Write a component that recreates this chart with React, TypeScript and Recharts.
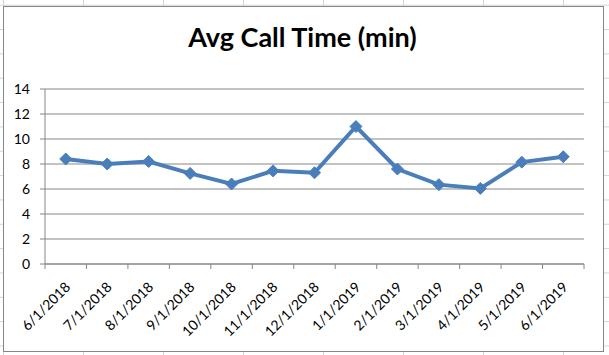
import { LineChart, Line, XAxis, YAxis, CartesianGrid } from "recharts";

const months = [
  "6/1/2018", "7/1/2018", "8/1/2018", "9/1/2018", "10/1/2018", "11/1/2018", "12/1/2018",
  "1/1/2019", "2/1/2019", "3/1/2019", "4/1/2019", "5/1/2019", "6/1/2019",
];
const avgCallTime = [8.4, 8.0, 8.2, 7.25, 6.4, 7.45, 7.3, 11.0, 7.6, 6.35, 6.05, 8.15, 8.58];
const yTicks = [0, 2, 4, 6, 8, 10, 12, 14];

const data = months.map((m, i) => ({ month: m, value: avgCallTime[i] }));

const FONT = "Lato, 'Open Sans', sans-serif";
const AXIS_GRAY = "#868686";
const BLUE = "#4a7ebb";

const CHART_W = 599;
const CHART_H = 344;
const MARGIN = { top: 82, right: 19, bottom: 0, left: 0 };
const Y_W = 41;
const BAND = (CHART_W - MARGIN.right - MARGIN.left - Y_W) / months.length;

function MonthTick(props: any) {
  const { x, y, payload, index } = props;
  const axisY = y - 8;
  const last = index === months.length - 1;
  const tx = x + 5.5;
  const ty = axisY + 24;
  return (
    <g>
      <line x1={x - BAND / 2} y1={axisY} x2={x - BAND / 2} y2={axisY + 5} stroke={AXIS_GRAY} />
      {last && <line x1={x + BAND / 2} y1={axisY} x2={x + BAND / 2} y2={axisY + 5} stroke={AXIS_GRAY} />}
      <text
        x={tx}
        y={ty}
        transform={`rotate(-45, ${tx}, ${ty})`}
        textAnchor="end"
        fontSize={14}
        fontFamily={FONT}
        fill="#000"
      >
        {payload.value}
      </text>
    </g>
  );
}

function Diamond(props: any) {
  const { cx, cy } = props;
  if (cx == null || cy == null) return null;
  const r = 6;
  return (
    <polygon
      points={`${cx},${cy - r} ${cx + r},${cy} ${cx},${cy + r} ${cx - r},${cy}`}
      fill={BLUE}
      stroke={BLUE}
      strokeWidth={1}
    />
  );
}

export default function App() {
  return (
    <div
      style={{
        position: "absolute",
        left: 0,
        top: 0,
        width: 609,
        height: 355,
        overflow: "hidden",
        background: "#fff",
        backgroundImage:
          "linear-gradient(to right, #d4d4d4 1px, transparent 1px), linear-gradient(to bottom, #d4d4d4 1px, transparent 1px)",
        backgroundSize: "80px 100%, 100% 24.35px",
        backgroundPosition: "3px 0, 0 4.7px",
      }}
    >
      <div
        style={{
          position: "absolute",
          left: 3,
          top: 6,
          width: CHART_W + 2,
          height: CHART_H + 2,
          border: `1px solid ${AXIS_GRAY}`,
          boxSizing: "border-box",
          background: "#fff",
        }}
      >
        <div style={{ position: "absolute", left: 0, top: 0 }}>
          <LineChart width={CHART_W} height={CHART_H} data={data} margin={MARGIN}>
            <CartesianGrid vertical={false} stroke={AXIS_GRAY} strokeWidth={1} />
            <XAxis
              dataKey="month"
              scale="band"
              interval={0}
              height={87}
              axisLine={{ stroke: AXIS_GRAY }}
              tickLine={false}
              tick={<MonthTick />}
            />
            <YAxis
              domain={[0, 14]}
              ticks={yTicks}
              width={Y_W}
              tickSize={5}
              tickMargin={10}
              axisLine={{ stroke: AXIS_GRAY }}
              tickLine={{ stroke: AXIS_GRAY }}
              tick={{ fontSize: 14, fontFamily: FONT, fill: "#000" }}
            />
            <Line
              type="linear"
              dataKey="value"
              stroke={BLUE}
              strokeWidth={4}
              dot={<Diamond />}
              activeDot={false}
              isAnimationActive={false}
            />
          </LineChart>
        </div>
      </div>
      <svg style={{ position: "absolute", left: 0, top: 0 }} width={609} height={60}>
        <text
          x={302.5}
          y={47}
          textAnchor="middle"
          fontSize={27}
          fontWeight={700}
          fontFamily={FONT}
          fill="#000"
        >
          Avg Call Time (min)
        </text>
      </svg>
    </div>
  );
}
